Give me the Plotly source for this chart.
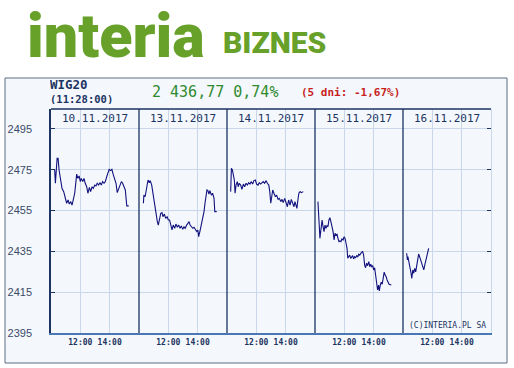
import plotly.graph_objects as go

# ---------------- data ----------------
days = ["10.11.2017", "13.11.2017", "14.11.2017", "15.11.2017", "16.11.2017"]
session_minutes = 360  # 10:00 .. 16:00 on the time axis

d1_min = [15, 18, 25, 29, 33, 38, 45, 52, 58, 64, 70, 75, 81, 86, 91, 97, 102, 105, 110, 115,
          120, 124, 130, 135, 140, 146, 151, 157, 162, 168, 173, 179, 184, 189, 195, 200, 206, 211, 217, 222,
          228, 233, 238, 244, 249, 255, 260, 266, 271, 277, 282, 288, 293, 299, 304, 310, 318]
d1_val = [2474.9, 2468.4, 2480.6, 2480.6, 2474.9, 2470.0, 2465.9, 2464.3, 2461.0, 2458.6, 2460.2, 2458.2, 2459.4, 2457.7, 2460.2, 2463.5, 2469.2, 2472.9, 2470.8, 2472.0,
          2469.2, 2470.8, 2469.2, 2470.8, 2468.4, 2466.7, 2463.5, 2466.4, 2464.3, 2466.7, 2465.9, 2467.5, 2467.1, 2468.4, 2467.5, 2468.7, 2467.5, 2469.2, 2468.4, 2469.2,
          2471.6, 2473.3, 2475.2, 2474.6, 2475.2, 2472.5, 2470.8, 2468.4, 2463.8, 2465.9, 2466.7, 2469.2, 2468.4, 2466.7, 2465.1, 2457.3, 2457.3]

d2_min = [18, 20, 25, 29, 34, 37, 42, 46, 52, 56, 61, 65, 70, 75, 79, 83, 89, 94, 98, 104,
          109, 115, 120, 125, 131, 135, 140, 146, 151, 157, 162, 168, 173, 179, 184, 189, 195, 200, 205, 209,
          214, 220, 225, 230, 236, 241, 244, 249, 255, 261, 266, 270, 274, 278, 282, 286, 290, 296, 301, 307, 310, 318]
d2_val = [2458.6, 2462.6, 2461.8, 2464.3, 2466.7, 2470.0, 2468.7, 2469.7, 2467.5, 2464.3, 2460.2, 2456.1, 2452.8, 2449.6, 2447.9, 2450.4, 2453.7, 2454.0, 2452.0, 2453.3,
          2451.2, 2452.0, 2450.4, 2450.4, 2447.1, 2445.5, 2447.9, 2446.3, 2448.4, 2446.8, 2447.9, 2446.3, 2447.5, 2445.8, 2447.1, 2446.3, 2447.9, 2448.8, 2449.6, 2447.9,
          2447.1, 2446.3, 2446.8, 2445.5, 2444.7, 2445.5, 2442.2, 2444.7, 2447.9, 2452.0, 2454.5, 2458.6, 2461.8, 2465.1, 2464.8, 2463.1, 2464.8, 2462.6, 2463.5, 2461.0, 2454.5, 2454.5]

d3_min = [15, 18, 22, 26, 30, 33, 37, 42, 46, 50, 56, 61, 67, 72, 78, 83, 89, 94, 99, 105,
          110, 116, 121, 127, 132, 138, 143, 148, 154, 160, 165, 171, 175, 179, 183, 187, 192, 198, 203, 209,
          214, 220, 225, 230, 236, 241, 247, 252, 258, 263, 269, 274, 278, 282, 286, 290, 294, 299, 304, 312]
d3_val = [2464.3, 2475.7, 2474.9, 2472.5, 2470.0, 2463.5, 2467.5, 2469.2, 2466.7, 2468.4, 2467.5, 2465.4, 2468.0, 2466.7, 2468.4, 2467.5, 2468.7, 2468.0, 2469.2, 2468.0,
          2469.7, 2470.0, 2468.0, 2467.5, 2468.7, 2468.0, 2468.4, 2469.2, 2468.4, 2469.7, 2468.4, 2467.5, 2464.3, 2458.6, 2461.8, 2465.1, 2463.5, 2461.8, 2462.6, 2460.5,
          2461.0, 2459.4, 2460.5, 2458.9, 2461.0, 2459.4, 2456.9, 2460.2, 2457.7, 2460.5, 2458.9, 2456.9, 2459.4, 2458.2, 2456.1, 2460.2, 2463.5, 2464.3, 2463.8, 2464.3]

d4_min = [12, 15, 18, 20, 25, 29, 33, 37, 41, 45, 49, 53, 57, 61, 65, 70, 74, 78, 82, 86,
          90, 94, 98, 102, 106, 110, 115, 119, 123, 127, 131, 134, 138, 142, 146, 150, 154, 158, 162, 166,
          171, 175, 179, 183, 187, 191, 195, 199, 203, 207, 211, 215, 220, 224, 228, 232, 236, 240, 244, 248,
          252, 256, 260, 263, 267, 271, 275, 279, 283, 287, 291, 295, 299, 303, 312]
d4_val = [2459.4, 2454.5, 2446.3, 2441.4, 2447.9, 2450.4, 2447.1, 2444.7, 2447.9, 2446.3, 2447.6, 2447.1, 2450.4, 2451.5, 2449.6, 2447.1, 2444.7, 2440.6, 2443.9, 2443.0,
          2443.4, 2441.4, 2439.8, 2440.1, 2439.8, 2441.1, 2440.6, 2442.2, 2441.4, 2439.0, 2436.5, 2431.6, 2432.4, 2433.2, 2431.6, 2432.4, 2432.9, 2431.3, 2432.4, 2431.9,
          2432.9, 2432.4, 2433.6, 2433.2, 2434.1, 2434.6, 2434.9, 2433.2, 2428.3, 2427.0, 2429.2, 2428.0, 2430.0, 2427.5, 2428.7, 2427.5, 2428.0, 2425.9, 2427.0, 2423.4,
          2419.9, 2416.1, 2418.5, 2415.6, 2418.5, 2419.9, 2418.9, 2421.8, 2424.8, 2423.4, 2422.6, 2421.0, 2419.9, 2418.9, 2418.5]

d5_min = [15, 18, 20, 25, 29, 33, 36, 40, 44, 48, 52, 56, 60, 64, 68, 72, 76, 81, 85, 89, 93, 97, 101, 105]
d5_val = [2434.1, 2430.8, 2432.4, 2429.2, 2428.3, 2424.3, 2421.8, 2425.9, 2424.3, 2426.7, 2425.0, 2428.3, 2430.8, 2433.7, 2432.4, 2430.8, 2429.2, 2427.8, 2425.9, 2428.3, 2430.4, 2433.2, 2435.7, 2436.5]

day_minutes = [d1_min, d2_min, d3_min, d4_min, d5_min]
day_values = [d1_val, d2_val, d3_val, d4_val, d5_val]

y_ticks = [2395, 2415, 2435, 2455, 2475, 2495]
x_tick_hours = [("12:00", 120), ("14:00", 240)]

index_name = "WIG20"
quote_time = "(11:28:00)"
quote_text = "2 436,77 0,74%"
week_text = "(5 dni: -1,67%)"
copyright_text = "(C)INTERIA.PL SA"

# ---------------- styles ----------------
NAVY = "#1c3462"
LINE = "#12127e"
GRID = "#c8d8ea"
BG = "#f4f8fc"
GREEN_LOGO = "#67a12a"
MONO = "DejaVu Sans Mono"

fig = go.Figure()

for d, (mins, vals) in enumerate(zip(day_minutes, day_values)):
    fig.add_trace(go.Scatter(
        x=[d * session_minutes + m for m in mins], y=vals,
        mode="lines", line=dict(color=LINE, width=1.1),
        hoverinfo="skip", showlegend=False))

# invisible trace to show right-side tick marks
fig.add_trace(go.Scatter(x=[0, len(days) * session_minutes], y=[y_ticks[0], y_ticks[0]],
                         yaxis="y2", mode="lines", line=dict(color="rgba(0,0,0,0)"),
                         hoverinfo="skip", showlegend=False))

tickvals, ticktext = [], []
for d in range(len(days)):
    for lab, m in x_tick_hours:
        tickvals.append(d * session_minutes + m)
        ticktext.append(lab)

y_range = [2395, 2504.8]

fig.update_layout(
    width=514, height=368,
    margin=dict(l=51, r=23, t=109, b=35, autoexpand=False),
    paper_bgcolor="white", plot_bgcolor=BG,
    xaxis=dict(range=[0, len(days) * session_minutes], tickvals=tickvals, ticktext=ticktext,
               showgrid=True, gridcolor=GRID, gridwidth=1, zeroline=False, automargin=False,
               showline=True, linecolor="#4a78b5", linewidth=2, ticks="",
               tickfont=dict(family=MONO, size=8, color=NAVY, weight="bold")),
    yaxis=dict(range=y_range, tickvals=y_ticks, showgrid=True, gridcolor=GRID, gridwidth=1,
               zeroline=False, showline=True, linecolor=NAVY, linewidth=1.5, automargin=False,
               ticks="inside", ticklen=4, tickcolor=NAVY, ticklabelstandoff=15,
               tickfont=dict(family="Liberation Sans, Arial", size=11, color="#3a4a68")),
    yaxis2=dict(range=y_range, tickvals=y_ticks, overlaying="y", side="right", automargin=False,
                showgrid=False, zeroline=False, showline=True, linecolor=GRID,
                ticks="inside", ticklen=4, tickcolor=NAVY, showticklabels=False),
)

# outer frame
fig.add_shape(type="rect", xref="paper", yref="paper",
              x0=(5 - 51) / 440, x1=(507 - 51) / 440, y0=(333 - 363) / 224, y1=(333 - 78) / 224,
              line=dict(color="#5a6e84", width=1), fillcolor=BG, layer="below")
# top border of plot
fig.add_shape(type="line", xref="paper", yref="paper", x0=0, x1=1, y0=1, y1=1,
              line=dict(color=NAVY, width=1.5))
# day separators
for d in range(1, len(days)):
    fig.add_shape(type="line", xref="x", yref="paper", x0=d * session_minutes, x1=d * session_minutes,
                  y0=0, y1=1, line=dict(color=NAVY, width=1.3))

# day labels
for d, lab in enumerate(days):
    fig.add_annotation(x=d * session_minutes + session_minutes / 2, y=1, xref="x", yref="paper",
                       yanchor="top", yshift=-1, text=lab, showarrow=False,
                       font=dict(family=MONO, size=11, color=NAVY))

# header texts
fig.add_annotation(x=0, y=(333 - 85) / 224, xref="paper", yref="paper", xanchor="left", yanchor="middle",
                   text=index_name, showarrow=False, xshift=-2, borderpad=0, height=11,
                   font=dict(family=MONO, size=12.5, color=NAVY, weight="bold"))
fig.add_annotation(x=0, y=(333 - 98.5) / 224, xref="paper", yref="paper", xanchor="left", yanchor="middle",
                   text=quote_time, showarrow=False, xshift=-2, borderpad=0, height=10,
                   font=dict(family=MONO, size=10.5, color=NAVY, weight="bold"))
fig.add_annotation(x=(151.7 - 51) / 440, y=(333 - 91.5) / 224, xref="paper", yref="paper",
                   xanchor="left", yanchor="middle", text=quote_text, showarrow=False, xshift=-2,
                   font=dict(family=MONO, size=15, color="#2f8a2f"))
fig.add_annotation(x=(300.7 - 51) / 440, y=(333 - 92.5) / 224, xref="paper", yref="paper",
                   xanchor="left", yanchor="middle", text=week_text, showarrow=False, xshift=-2,
                   font=dict(family=MONO, size=11, color="#c81e1e", weight="bold"))

# copyright
fig.add_annotation(x=(486 - 51) / 440, y=(333 - 325) / 224, xref="paper", yref="paper",
                   xanchor="right", yanchor="middle", text=copyright_text, showarrow=False, xshift=2,
                   font=dict(family=MONO, size=8, color=NAVY))

# logo
fig.add_annotation(x=(26 - 51) / 440, y=(333 - 36) / 224, xref="paper", yref="paper",
                   xanchor="left", yanchor="middle", text="interia", showarrow=False, borderpad=0,
                   font=dict(family="Roboto", size=61, color=GREEN_LOGO, weight=900))
fig.add_annotation(x=(222 - 51) / 440, y=(333 - 42) / 224, xref="paper", yref="paper",
                   xanchor="left", yanchor="middle", text="BIZNES", showarrow=False, borderpad=0,
                   font=dict(family="Roboto", size=30, color=GREEN_LOGO, weight=900))

fig.write_html("out.html")
